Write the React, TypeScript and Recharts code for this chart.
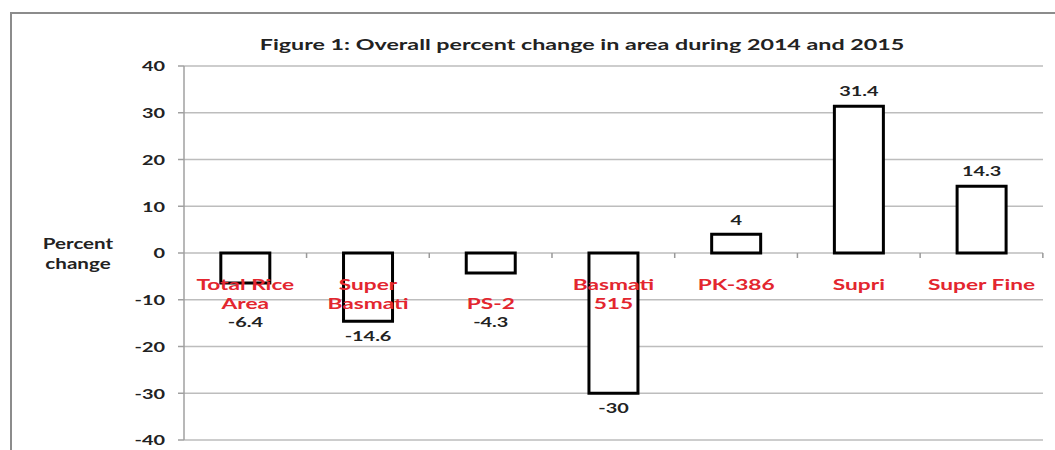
import { Bar, BarChart, CartesianGrid, LabelList, XAxis, YAxis } from 'recharts';

// categories as printed under the zero line ('\n' = line break in the label)
const categories = ['Total Rice\nArea', 'Super\nBasmati', '\nPS-2', 'Basmati\n515', 'PK-386', 'Supri', 'Super Fine'];
const percentChange = [-6.4, -14.6, -4.3, -30, 4, 31.4, 14.3];
const yTicks = [-40, -30, -20, -10, 0, 10, 20, 30, 40];

const chartTitle = 'Figure 1: Overall percent change in area during 2014 and 2015';
const yTitle = ['Percent', 'change'];

const FONT = 'Lato, "Open Sans", sans-serif';
const SX = 1.42; // the source picture is stretched sideways
const BAR_SHARE = 0.4;

const data = categories.map((name, i) => ({ name, value: percentChange[i] }));

function Stretch(props: { x: number; y: number; size: number; fill: string; anchor?: string; children: any }) {
  return (
    <text
      transform={`translate(${props.x},${props.y}) scale(${SX},1)`}
      textAnchor={props.anchor ?? 'middle'}
      dominantBaseline="central"
      fontFamily={FONT}
      fontWeight={700}
      fontSize={props.size}
      fill={props.fill}
    >
      {props.children}
    </text>
  );
}

function YTick(props: any) {
  const { x, y, payload } = props;
  return (
    <Stretch x={x} y={y} size={14} fill="#222" anchor="end">
      {payload.value}
    </Stretch>
  );
}

function YTitle(props: any) {
  const vb = props.viewBox ?? { x: 0, y: 0, width: 0, height: 0 };
  const cx = vb.x - 46;
  const cy = vb.y + vb.height / 2;
  return (
    <g>
      <Stretch x={cx} y={cy - 10} size={14.5} fill="#222">{yTitle[0]}</Stretch>
      <Stretch x={cx} y={cy + 10} size={14.5} fill="#222">{yTitle[1]}</Stretch>
    </g>
  );
}

function BarLabels(props: any) {
  const { x, y, width, height, value, index } = props;
  const top = Math.min(y, y + height);
  const bottom = Math.max(y, y + height);
  const zeroY = value >= 0 ? bottom : top;
  const cx = x + width / 2;
  const band = width / BAR_SHARE;
  const lines = String(categories[index] ?? '').split('\n');
  const valueY = value >= 0 ? top - 15 : Math.max(bottom + 14, zeroY + 69);
  return (
    <g>
      <line x1={cx + band / 2} x2={cx + band / 2} y1={zeroY} y2={zeroY + 5} stroke="#999" strokeWidth={1.5} />
      {lines.map((ln, i) => (
        <Stretch key={i} x={cx} y={zeroY + 31 + i * 19} size={16} fill="#e3262f">
          {ln}
        </Stretch>
      ))}
      <Stretch x={cx} y={valueY} size={14} fill="#222">
        {value}
      </Stretch>
    </g>
  );
}

export default function App() {
  return (
    <div style={{ position: 'fixed', left: 0, top: 0, width: 1055, height: 450, background: '#fff', overflow: 'hidden' }}>
      <div
        style={{
          position: 'absolute',
          left: 10,
          top: 12,
          width: 1100,
          height: 500,
          border: '2px solid #8c8c8c',
        }}
      />
      <div
        style={{
          position: 'absolute',
          left: 582,
          top: 36,
          fontFamily: FONT,
          fontWeight: 700,
          fontSize: 15,
          lineHeight: '16px',
          color: '#222',
          whiteSpace: 'nowrap',
          transform: 'translateX(-50%) scaleX(1.55)',
        }}
      >
        {chartTitle}
      </div>
      <div style={{ position: 'absolute', left: 0, top: 0 }}>
        <BarChart
          width={1055}
          height={450}
          data={data}
          margin={{ top: 66, right: 12, bottom: 10, left: 124 }}
          barCategoryGap="30%"
        >
          <CartesianGrid vertical={false} stroke="#bdbdbd" strokeWidth={1.5} />
          <XAxis dataKey="name" hide />
          <YAxis
            width={60}
            domain={[-40, 40]}
            ticks={yTicks}
            interval={0}
            tick={<YTick />}
            tickSize={6}
            tickMargin={13}
            axisLine={{ stroke: '#a0a0a0', strokeWidth: 1.5 }}
            tickLine={{ stroke: '#a0a0a0', strokeWidth: 1.5 }}
            label={<YTitle />}
          />
          <Bar dataKey="value" fill="#fff" stroke="#000" strokeWidth={3} isAnimationActive={false}>
            <LabelList dataKey="value" content={<BarLabels />} />
          </Bar>
        </BarChart>
      </div>
    </div>
  );
}
